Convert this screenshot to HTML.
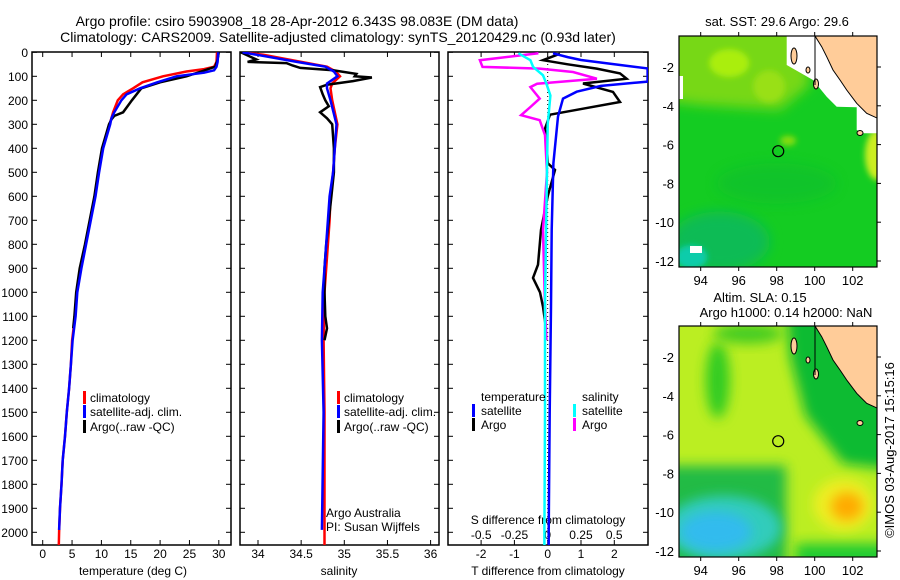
<!DOCTYPE html>
<html><head><meta charset="utf-8">
<style>
html,body{margin:0;padding:0;background:#fff;}
svg{display:block;font-family:"Liberation Sans",sans-serif;}
text{fill:#000;}
</style></head>
<body>
<svg id="fig" width="900" height="580" viewBox="0 0 900 580" xmlns="http://www.w3.org/2000/svg">
<defs>
<filter id="blur6" x="-50%" y="-50%" width="200%" height="200%"><feGaussianBlur stdDeviation="6"/></filter>
<filter id="blur3" x="-50%" y="-50%" width="200%" height="200%"><feGaussianBlur stdDeviation="3"/></filter>
<clipPath id="clipTop"><rect x="679" y="36" width="198" height="231"/></clipPath>
<clipPath id="clipBot"><rect x="679" y="326" width="198" height="231"/></clipPath>
<clipPath id="clipP1"><rect x="32" y="52" width="199" height="493"/></clipPath>
<clipPath id="clipP2"><rect x="240" y="52" width="199" height="493"/></clipPath>
<clipPath id="clipP3"><rect x="448" y="52" width="200" height="493"/></clipPath>
</defs>
<text x="297" y="26" font-size="14" text-anchor="middle">Argo profile: csiro 5903908_18 28-Apr-2012 6.343S 98.083E (DM data)</text>
<text x="338" y="42" font-size="14" text-anchor="middle">Climatology: CARS2009. Satellite-adjusted climatology: synTS_20120429.nc (0.93d later)</text>
<g id="p1"></g>
<g id="p2"></g>
<g id="p3"></g>
<g id="m1"></g>
<g id="m2"></g>
<text transform="translate(894,450) rotate(-90)" font-size="13" text-anchor="middle">©IMOS 03-Aug-2017 15:15:16</text>
</svg>
<script>
// ---------- data ----------
const depthTicks=[0,100,200,300,400,500,600,700,800,900,1000,1100,1200,1300,1400,1500,1600,1700,1800,1900,2000];
const tempTicks=[0,5,10,15,20,25,30];
const salTicks=[34,34.5,35,35.5,36];
const tdiffTicks=[-2,-1,0,1,2];
const sdiffTicks=[-0.5,-0.25,0,0.25,0.5];
const sdiffTickLabels=["-0.5","-0.25","0","0.25","0.5"];
const tempClim=[[0,29.7],[40,29.6],[60,29.2],[70,27.5],[80,24.5],[100,20.5],[125,17],[150,15.4],[175,13.7],[200,12.8],[250,12],[275,11.7],[300,11.4],[400,10.2],[500,9.5],[600,8.9],[700,8.1],[800,7.3],[900,6.5],[1000,5.8],[1100,5.5],[1200,5.0],[1300,4.8],[1400,4.5],[1500,4.1],[1600,3.8],[1700,3.4],[1800,3.2],[1900,2.95],[2000,2.8],[2054,2.75]];
const tempSat=[[0,29.9],[40,29.8],[60,29.6],[75,29.2],[85,27.5],[100,22.8],[125,19.5],[150,16.6],[175,14.3],[200,13.4],[250,12.2],[275,11.7],[300,11.5],[400,10.3],[500,9.6],[600,9.0],[700,8.2],[800,7.4],[900,6.6],[1000,5.9],[1100,5.6],[1200,5.1],[1300,4.8],[1400,4.5],[1500,4.1],[1600,3.8],[1700,3.4],[1800,3.2],[1900,2.95],[1990,2.8]];
const tempArgo=[[0,30.0],[30,29.8],[60,29.4],[80,27.0],[100,24.5],[125,20],[150,16.8],[175,16],[200,15.2],[250,13.7],[265,12.2],[280,11.7],[300,11.3],[400,10.1],[500,9.4],[600,8.8],[700,8.0],[800,7.2],[900,6.3],[1000,5.7],[1100,5.4],[1150,5.2]];
const salClim=[[0,33.82],[10,34.06],[40,34.5],[60,34.8],[80,34.9],[100,34.95],[130,34.86],[150,34.84],[200,34.86],[300,34.92],[400,34.89],[500,34.87],[600,34.84],[700,34.83],[800,34.81],[900,34.79],[1000,34.77],[1200,34.76],[1500,34.77],[2054,34.77]];
const salSat=[[0,33.82],[10,33.98],[40,34.45],[60,34.78],[80,34.88],[100,34.92],[130,34.8],[150,34.8],[200,34.84],[300,34.91],[400,34.89],[500,34.87],[600,34.83],[700,34.81],[800,34.79],[900,34.77],[1000,34.75],[1200,34.74],[1500,34.76],[1990,34.74]];
const salArgo=[[0,33.8],[30,33.98],[40,33.88],[45,34.33],[55,34.4],[65,34.49],[75,34.87],[90,35.14],[100,35.12],[105,35.32],[120,35.1],[135,34.8],[145,34.72],[175,34.75],[200,34.78],[225,34.82],[250,34.72],[275,34.8],[300,34.86],[400,34.88],[500,34.88],[600,34.85],[700,34.82],[800,34.79],[900,34.77],[1000,34.77],[1100,34.78],[1150,34.8],[1200,34.77]];
const tdiffSat=[[4,0.16],[20,0.6],[32,1.0],[50,2.0],[67,3.0],[122,3.0],[140,1.6],[164,0.87],[193,0.46],[268,0.31],[462,0.17],[740,0.12],[1060,0.1],[1500,0.06],[2000,0.03],[2054,0.03]];
const tdiffArgo=[[6,0.37],[33,-0.14],[50,0.6],[68,1.47],[88,2.17],[110,2.37],[130,1.06],[165,1.96],[207,2.17],[235,1.06],[260,0.07],[318,-0.08],[400,-0.02],[462,0],[490,0.22],[600,0],[740,-0.2],[885,-0.29],[940,-0.44],[1000,-0.23],[1060,-0.14],[1150,-0.05]];
const sdiffArgo=[[4,-0.07],[33,-0.51],[61,-0.49],[68,-0.06],[82,0.19],[110,0.37],[131,-0.08],[145,-0.13],[193,-0.06],[228,-0.13],[262,-0.2],[283,-0.06],[345,-0.02],[500,-0.005],[740,-0.035],[1060,-0.02],[1200,-0.01]];
const sdiffSat=[[4,-0.22],[33,-0.13],[61,-0.11],[96,-0.035],[131,-0.01],[180,0.02],[300,0],[740,-0.012],[1060,-0.02],[1500,-0.02],[2000,-0.025],[2054,-0.025]];

const NS="http://www.w3.org/2000/svg";
function mk(tag,attrs,parent){const e=document.createElementNS(NS,tag);for(const k in attrs)e.setAttribute(k,attrs[k]);parent.appendChild(e);return e;}
const Y0=52.3, KY=0.24;
const yD=d=>Y0+d*KY;
const xT=t=>42.7+t*5.87;
const xS=s=>258+(s-34)*86.3;
const xTD=t=>547.7+t*33.3;
const xSD=s=>547.7+s*133;

function frame(g,x0,x1,name){
  const r=mk('rect',{x:x0,y:52,width:x1-x0,height:493,fill:'none',stroke:'#000','stroke-width':1.5},g);
  
  
  depthTicks.forEach(d=>{
    mk('line',{x1:x0,x2:x0+5,y1:yD(d),y2:yD(d),stroke:'#000'},g);
    mk('line',{x1:x1,x2:x1-5,y1:yD(d),y2:yD(d),stroke:'#000'},g);
  });
}
function series(g,pts,fx,color,clip,name,w){
  const p=mk('polyline',{points:pts.map(q=>fx(q[1]).toFixed(1)+','+yD(q[0]).toFixed(1)).join(' '),fill:'none',stroke:color,'stroke-width':w||2.5,'clip-path':'url(#'+clip+')'},g);
  
  
}
function xticks(g,ticks,fx,labels,ly){
  ticks.forEach((t,i)=>{
    const x=fx(t);
    mk('line',{x1:x,x2:x,y1:545,y2:540,stroke:'#000'},g);
    mk('line',{x1:x,x2:x,y1:52,y2:57,stroke:'#000'},g);
    const tx=mk('text',{x:x,y:ly,'font-size':12,'text-anchor':'middle'},g);
    tx.textContent=labels?labels[i]:String(t);
    
    
  });
}
function txt(g,x,y,s,name,anchor,size){
  const t=mk('text',{x:x,y:y,'font-size':size||12,'text-anchor':anchor||'start'},g);
  t.textContent=s;
  
  
  return t;
}
function bar(g,x,y,color,name){
  const r=mk('rect',{x:x,y:y-7,width:3,height:13,fill:color},g);
  
  
}
// panel 1
const p1=document.getElementById('p1');
frame(p1,32,231,'temperature-panel');
depthTicks.forEach(d=>{txt(p1,28,yD(d)+4.5,String(d),'y-tick-label','end',12);});
xticks(p1,tempTicks,xT,null,558);
txt(p1,133,575,'temperature (deg C)','x-axis-title','middle',12);
series(p1,tempClim,xT,'#f00','clipP1','temp-climatology-line');
series(p1,tempArgo,xT,'#000','clipP1','temp-argo-line');
series(p1,tempSat,xT,'#00f','clipP1','temp-satellite-line');
bar(p1,83,398,'#f00','legend-swatch-climatology');txt(p1,90,402,'climatology','legend-climatology');
bar(p1,83,412,'#00f','legend-swatch-satellite');txt(p1,90,416,'satellite-adj. clim.','legend-satellite');
bar(p1,83,427,'#000','legend-swatch-argo');txt(p1,90,431,'Argo(..raw -QC)','legend-argo');
// panel 2
const p2=document.getElementById('p2');
frame(p2,240,439,'salinity-panel');
xticks(p2,salTicks,xS,null,558);
txt(p2,339,575,'salinity','x-axis-title','middle',12);
series(p2,salClim,xS,'#f00','clipP2','sal-climatology-line');
series(p2,salArgo,xS,'#000','clipP2','sal-argo-line');
series(p2,salSat,xS,'#00f','clipP2','sal-satellite-line');
bar(p2,337,398,'#f00','legend-swatch-climatology');txt(p2,344,402,'climatology','legend-climatology');
bar(p2,337,412,'#00f','legend-swatch-satellite');txt(p2,344,416,'satellite-adj. clim.','legend-satellite');
bar(p2,337,427,'#000','legend-swatch-argo');txt(p2,344,431,'Argo(..raw -QC)','legend-argo');
txt(p2,326,517,'Argo Australia','credit-argo-australia');
txt(p2,326,531,'PI: Susan Wijffels','credit-pi');
// panel 3
const p3=document.getElementById('p3');
frame(p3,448,648,'difference-panel');
mk('line',{x1:xTD(0),x2:xTD(0),y1:52,y2:545,stroke:'#000','stroke-dasharray':'1,3'},p3);
tdiffTicks.forEach(t=>{const x=xTD(t);mk('line',{x1:x,x2:x,y1:545,y2:540,stroke:'#000'},p3);mk('line',{x1:x,x2:x,y1:52,y2:57,stroke:'#000'},p3);txt(p3,x,558,String(t),'t-diff-tick-label','middle');});
sdiffTicks.forEach((s,i)=>{txt(p3,xSD(s),539,sdiffTickLabels[i],'s-diff-tick-label','middle');});
txt(p3,548,524,'S difference from climatology','s-axis-title','middle');
txt(p3,548,575,'T difference from climatology','t-axis-title','middle');
series(p3,tdiffArgo,xTD,'#000','clipP3','tdiff-argo-line');
series(p3,tdiffSat,xTD,'#00f','clipP3','tdiff-satellite-line');
series(p3,sdiffArgo,xSD,'#f0f','clipP3','sdiff-argo-line');
series(p3,sdiffSat,xSD,'#0ff','clipP3','sdiff-satellite-line');
txt(p3,481,401,'temperature','legend-temperature-header');
bar(p3,472,411,'#00f','legend-swatch-t-satellite');txt(p3,481,415,'satellite','legend-t-satellite');
bar(p3,472,425,'#000','legend-swatch-t-argo');txt(p3,481,429,'Argo','legend-t-argo');
txt(p3,582,401,'salinity','legend-salinity-header');
bar(p3,573,411,'#0ff','legend-swatch-s-satellite');txt(p3,582,415,'satellite','legend-s-satellite');
bar(p3,573,425,'#f0f','legend-swatch-s-argo');txt(p3,582,429,'Argo','legend-s-argo');

// ---------- maps ----------
const lonTicks=[94,96,98,100,102];
const latTicks=[-2,-4,-6,-8,-10,-12];
function drawMap(id,oy,clip,kind){
  const g=document.getElementById(id);
  const X=lon=>700.7+(lon-94)*19, Y=lat=>oy+67+(-2-lat)*19.4;
  const c=mk('g',{'clip-path':'url(#'+clip+')'},g);
  if(kind==='sst'){
    mk('rect',{x:679,y:oy+36,width:198,height:231,fill:'#14cc22'},c);
    mk('polygon',{points:[[660,oy+20],[800,oy+20],[810,oy+85],[780,oy+110],[700,oy+105],[660,oy+100]].map(p=>p.join(',')).join(' '),fill:'#77d814',filter:'url(#blur6)'},c);
    mk('ellipse',{cx:X(95.5),cy:Y(-1.8),rx:20,ry:14,fill:'#aaee11',filter:'url(#blur3)'},c);
    mk('ellipse',{cx:X(97.6),cy:Y(-3),rx:16,ry:16,fill:'#99e012',filter:'url(#blur3)'},c);
    mk('ellipse',{cx:X(98.6),cy:Y(-5.8),rx:8,ry:5,fill:'#88dd11',filter:'url(#blur3)'},c);
    mk('ellipse',{cx:X(95),cy:Y(-11),rx:50,ry:30,fill:'#11bb55',filter:'url(#blur6)'},c);
    mk('ellipse',{cx:X(93.5),cy:Y(-11.8),rx:16,ry:12,fill:'#11ccaa',filter:'url(#blur3)'},c);
    mk('ellipse',{cx:X(98),cy:Y(-8),rx:60,ry:20,fill:'#11bb33',opacity:0.5,filter:'url(#blur6)'},c);
    mk('ellipse',{cx:877,cy:oy+155,rx:12,ry:25,fill:'#ccee22',filter:'url(#blur3)'},c);
    mk('rect',{x:690,y:oy+246,width:12,height:7,fill:'#fff'},c);
    mk('rect',{x:679,y:oy+76,width:4,height:23,fill:'#fff'},c);
    mk('polygon',{points:[[786.7,36],[786.7,65],[813,80],[826.7,96.7],[836.7,106.7],[856.7,107.3],[856.7,130],[863,133.3],[877,133.3],[877,36]].map(p=>p[0]+','+(p[1]+oy)).join(' '),fill:'#fff'},c);
  } else {
    mk('rect',{x:679,y:oy+36,width:198,height:231,fill:'#bbee22'},c);
    mk('ellipse',{cx:X(94.9),cy:Y(-3.2),rx:12,ry:38,fill:'#33cc22',filter:'url(#blur6)'},c);
    mk('ellipse',{cx:X(96.5),cy:Y(-0.8),rx:35,ry:10,fill:'#44cc22',filter:'url(#blur6)'},c);
    mk('polygon',{points:[[X(98.5),Y(0.5)],[X(104),Y(0.5)],[X(104),Y(-7.8)],[X(101.5),Y(-7.5)],[X(99.5),Y(-5)],[X(98.7),Y(-2)]].map(p=>p.join(',')).join(' '),fill:'#11bb33',filter:'url(#blur6)'},c);
    mk('rect',{x:X(92),y:Y(-7.6),width:X(98.5)-X(92),height:Y(-13)-Y(-7.6),fill:'#22bb44',filter:'url(#blur6)'},c);
    mk('ellipse',{cx:X(95.2),cy:Y(-10.8),rx:58,ry:32,fill:'#33ccbb',filter:'url(#blur6)'},c);
    mk('ellipse',{cx:X(94.8),cy:Y(-11),rx:36,ry:20,fill:'#33bbee',filter:'url(#blur6)'},c);
    mk('rect',{x:X(99),y:Y(-11.6),width:X(104)-X(99),height:25,fill:'#22cc33',filter:'url(#blur6)'},c);
    mk('ellipse',{cx:X(101.5),cy:Y(-9.6),rx:30,ry:26,fill:'#eeee22',filter:'url(#blur6)'},c);
    mk('ellipse',{cx:X(101.7),cy:Y(-9.7),rx:16,ry:14,fill:'#ffaa00',filter:'url(#blur6)'},c);
  }
  const land=mk('polygon',{points:[[815,36],[877,36],[877,118],[866.7,113.3],[856.7,103.3],[846.7,90],[840,80],[833,70],[826.7,56.7],[821.7,46.7]].map(p=>p[0]+','+(p[1]+oy)).join(' '),fill:'#ffcc99',stroke:'#000','stroke-width':1},c);
  
  
  [[794,56,3,8],[808,70,2,3],[816,84,2.5,5],[860,133,3,2.5]].forEach(e=>mk('ellipse',{cx:e[0],cy:e[1]+oy,rx:e[2],ry:e[3],fill:'#ffcc99',stroke:'#000'},c));
  mk('line',{x1:815,y1:oy+36,x2:815,y2:oy+85,stroke:'#000'},c);
  const circ=mk('circle',{cx:X(98.08),cy:Y(-6.34),r:5.5,fill:'none',stroke:'#000','stroke-width':1.2},g);
  
  
  const fr=mk('rect',{x:679,y:oy+36,width:198,height:231,fill:'none',stroke:'#000','stroke-width':1.2},g);
  
  
  lonTicks.forEach(l=>{mk('line',{x1:X(l),x2:X(l),y1:oy+36,y2:oy+32,stroke:'#000'},g);mk('line',{x1:X(l),x2:X(l),y1:oy+267,y2:oy+271,stroke:'#000'},g);txt(g,X(l),oy+285,String(l),'lon-tick-label','middle',13);});
  latTicks.forEach(l=>{mk('line',{x1:877,x2:881,y1:Y(l),y2:Y(l),stroke:'#000'},g);txt(g,674,Y(l)+5,String(l),'lat-tick-label','end',13);});
}
drawMap('m1',0,'clipTop','sst');
drawMap('m2',290,'clipBot','sla');
txt(document.getElementById('m1'),777,26,'sat. SST: 29.6 Argo: 29.6','sst-map-title','middle',13);
txt(document.getElementById('m2'),760,302,'Altim. SLA: 0.15','sla-map-title','middle',13);
txt(document.getElementById('m2'),786,317,'Argo h1000: 0.14 h2000: NaN','sla-map-subtitle','middle',13);
</script>
</body></html>
